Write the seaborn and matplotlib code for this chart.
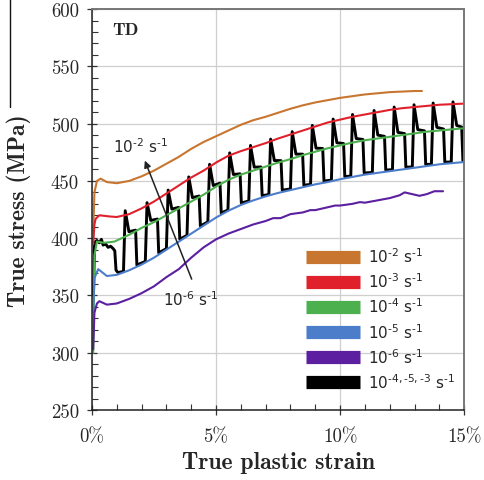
import matplotlib
matplotlib.use("Agg")
import matplotlib.pyplot as plt
from matplotlib.lines import Line2D
from matplotlib.ticker import MultipleLocator, PercentFormatter
import pandas as pd
import seaborn as sns

# True plastic strain (%) and true stress (MPa) for each constant strain rate
strain_1e2 = [0.05, 0.10, 0.20, 0.35, 0.60, 1.0, 1.5, 2.0, 2.5, 3.0, 3.5, 4.0, 4.5, 5.0, 5.5, 6.0,
              6.5, 7.0, 7.5, 8.0, 8.5, 9.0, 9.5, 10.0, 10.5, 11.0, 11.5, 12.0, 12.5, 13.0, 13.3]
stress_1e2 = [405, 440, 450, 452, 449, 448, 450, 454, 459, 465, 471, 478, 484, 489, 494, 499,
              503, 506, 509.5, 513, 516, 518.5, 520.5, 522.5, 524, 525.5, 526.5, 527.5, 528, 528.5, 528.5]

strain_1e3 = [0.05, 0.10, 0.15, 0.30, 0.70, 1.0, 1.5, 2.0, 2.5, 3.0, 3.5, 4.0, 4.5, 5.0, 5.5, 6.0,
              6.5, 7.0, 7.5, 8.0, 8.5, 9.0, 9.5, 10.0, 10.5, 11.0, 11.5, 12.0, 12.5, 13.0, 13.5,
              14.0, 14.5, 15.0]
stress_1e3 = [395, 412, 417, 420, 419, 418.5, 421, 426, 432, 439, 446, 453, 459, 466, 472, 476,
              479.5, 483, 487, 490.5, 494, 497.5, 501, 503.5, 506, 508, 510, 512, 513.5, 514.5, 515.5,
              516.5, 517, 517.5]

strain_1e4 = [0.05, 0.10, 0.20, 0.50, 0.90, 1.2, 1.5, 2.0, 2.5, 3.0, 3.5, 4.0, 4.5, 5.0, 5.5, 6.0,
              6.5, 7.0, 7.5, 8.0, 8.5, 9.0, 9.5, 10.0, 10.5, 11.0, 11.5, 12.0, 12.5, 13.0, 13.5,
              14.0, 14.5, 15.0]
stress_1e4 = [300, 385, 397, 396, 397, 400, 403, 409, 414, 420, 426, 432, 438, 445, 451, 455.5,
              459, 462.5, 466, 469, 472.5, 475.5, 478.5, 481, 483.5, 485.5, 487, 488.5, 490, 491.5, 493,
              494, 495, 496]

strain_1e5 = [0.05, 0.10, 0.25, 0.60, 1.0, 1.5, 2.0, 2.5, 3.0, 3.5, 4.0, 4.5, 5.0, 5.5, 6.0,
              6.5, 7.0, 7.5, 8.0, 8.5, 9.0, 9.5, 10.0, 10.5, 11.0, 11.5, 12.0, 12.5, 13.0, 13.5,
              14.0, 14.5, 15.0]
stress_1e5 = [335, 365, 373, 367, 368, 372, 377, 383, 390, 397, 404, 411, 418, 424, 429,
              433, 436.5, 439.5, 442, 444.5, 447, 449, 451.5, 453.5, 455.5, 457, 458.5, 460, 461.5, 463,
              464.5, 465.5, 466.5]

strain_1e6 = [0.05, 0.10, 0.20, 0.30, 0.60, 1.0, 1.5, 2.0, 2.5, 3.0, 3.5, 4.0, 4.5, 5.0, 5.5, 6.0,
              6.5, 7.0, 7.3, 7.6, 8.0, 8.5, 8.8, 9.0, 9.5, 9.8, 10.0, 10.5, 10.8, 11.0, 11.5, 12.0,
              12.4, 12.6, 12.9, 13.2, 13.5, 13.8, 14.15]
stress_1e6 = [303, 335, 343, 345, 342, 343, 347, 352, 358, 366, 373, 383, 392, 399, 404, 408,
              412, 415, 417.5, 417.5, 421, 422.5, 424.5, 424.5, 427, 428.5, 428.5, 430, 431.5, 431, 433, 435,
              437.5, 440, 438.5, 437, 438.5, 441, 441]

# Strain-rate jump test (10^-4 -> 10^-5 -> 10^-3 s^-1 cycles)
strain_jump = [0.06, 0.10, 0.14, 0.20, 0.30, 0.38, 0.45, 0.55, 0.65, 0.75, 0.85, 0.92, 0.97, 1.05, 1.27,
               1.34, 1.49, 1.76, 1.81, 2.15,
               2.22, 2.37, 2.64, 2.69, 3.00,
               3.07, 3.22, 3.49, 3.54, 3.83,
               3.90, 4.05, 4.32, 4.37, 4.67,
               4.74, 4.89, 5.16, 5.21, 5.48,
               5.55, 5.70, 5.97, 6.02, 6.32,
               6.39, 6.54, 6.81, 6.86, 7.13,
               7.20, 7.35, 7.62, 7.67, 8.00,
               8.07, 8.22, 8.49, 8.54, 8.81,
               8.88, 9.03, 9.30, 9.35, 9.65,
               9.72, 9.87, 10.14, 10.19, 10.43,
               10.50, 10.65, 10.92, 10.97, 11.30,
               11.37, 11.52, 11.79, 11.84, 12.11,
               12.18, 12.33, 12.60, 12.65, 12.91,
               12.98, 13.13, 13.40, 13.45, 13.68,
               13.75, 13.90, 14.17, 14.22, 14.48,
               14.55, 14.70, 14.90, 14.95, 15.0]
stress_jump = [350, 393, 397, 398, 396, 399, 394, 395, 392, 393, 391, 389, 372, 370, 371,
               424, 405.7, 407, 376.6, 379.7,
               431, 415.5, 416.7, 387.2, 390.9,
               442, 425.4, 426.9, 399.1, 402.5,
               453.5, 435.4, 436.8, 410.7, 414.2,
               464.5, 446, 448, 422, 424.6,
               474.5, 455.6, 456.2, 430.7, 432.5,
               481, 462, 462.2, 437, 438.2,
               486.5, 467.8, 467.7, 441.9, 443,
               493, 473.4, 473.4, 446.2, 447,
               498.5, 478.6, 478.3, 449.9, 450.7,
               504, 483.3, 482.7, 453.8, 454.2,
               508, 487, 486.2, 456.9, 457.4,
               511.5, 490, 488.9, 459.5, 459.8,
               514.5, 492.4, 491.3, 462, 462.2,
               516.5, 494.8, 493.7, 464.4, 464.5,
               518, 496.8, 495.3, 466.4, 466.5,
               519, 498.4, 497, 467.5, 467]

series_labels = ["10$^{\u20102}$ s$^{\u20101}$", "10$^{\u20103}$ s$^{\u20101}$",
                 "10$^{\u20104}$ s$^{\u20101}$", "10$^{\u20105}$ s$^{\u20101}$",
                 "10$^{\u20106}$ s$^{\u20101}$", "10$^{\u20104,\u20105,\u20103}$ s$^{\u20101}$"]
series_colors = ["#C8762F", "#E0202B", "#4DB04F", "#4B7DCB", "#5B1FA0", "#000000"]
series_widths = [1.5, 1.5, 1.5, 1.5, 1.5, 2.1]

curves = [(strain_1e2, stress_1e2), (strain_1e3, stress_1e3), (strain_1e4, stress_1e4),
          (strain_1e5, stress_1e5), (strain_1e6, stress_1e6), (strain_jump, stress_jump)]

frames = []
for label, (s, t) in zip(series_labels, curves):
    frames.append(pd.DataFrame({"strain": s, "stress": t, "rate": label}))
data = pd.concat(frames, ignore_index=True)

sns.set_theme(style="white")
plt.rcParams["mathtext.fontset"] = "custom"
plt.rcParams["mathtext.rm"] = "Lato"
plt.rcParams["mathtext.it"] = "Lato"
plt.rcParams["mathtext.default"] = "regular"

fig = plt.figure(figsize=(4.84, 4.81), dpi=100)
ax = fig.add_axes([0.190, 0.1455, 0.769, 0.8335])

# jump-test curve first, constant-rate curves drawn over it
draw_order = [5, 0, 1, 2, 3, 4]
for i in draw_order:
    label, color, lw = series_labels[i], series_colors[i], series_widths[i]
    sub = data[data["rate"] == label]
    sns.lineplot(data=sub, x="strain", y="stress", color=color, lw=lw, sort=False,
                 estimator=None, legend=False, ax=ax, solid_joinstyle="round")

ax.set_xlim(0, 15)
ax.set_ylim(250, 600)
ax.xaxis.set_major_locator(MultipleLocator(5))
ax.xaxis.set_minor_locator(MultipleLocator(1))
ax.yaxis.set_major_locator(MultipleLocator(50))
ax.yaxis.set_minor_locator(MultipleLocator(10))
ax.xaxis.set_major_formatter(PercentFormatter(xmax=100, decimals=0))

ax.set_axisbelow(True)
ax.grid(which="major", color="#cfcfcf", lw=0.9)
ax.tick_params(which="major", direction="inout", length=7, width=0.9, color="#333333",
               labelsize=13.5)
ax.tick_params(axis="x", which="major", pad=9)
ax.tick_params(axis="y", which="major", pad=6)
ax.tick_params(which="minor", direction="in", length=4, width=0.8, color="#333333")
ax.tick_params(axis="x", which="both", bottom=True)
ax.tick_params(axis="y", which="both", left=True)
for lab in ax.get_xticklabels() + ax.get_yticklabels():
    lab.set_fontfamily("cmr10")

for side in ["left", "bottom"]:
    ax.spines[side].set_color("#222222")
    ax.spines[side].set_linewidth(1.1)
for side in ["top", "right"]:
    ax.spines[side].set_color("#777777")
    ax.spines[side].set_linewidth(1.4)

ax.set_xlabel("True plastic strain", fontfamily="cmb10", fontsize=17)
ax.set_ylabel("True stress (MPa)", fontfamily="cmb10", fontsize=17)
ax.xaxis.set_label_coords(0.5, -0.103)
ax.yaxis.set_label_coords(-0.163, 0.5)

ax.text(0.8, 582, "TD", fontfamily="cmb10", fontsize=13, va="center", ha="left")

ax.annotate("", xy=(2.09, 470), xytext=(4.06, 362),
            arrowprops=dict(arrowstyle="-|>", color="#222222", lw=1.1, mutation_scale=10))
ax.text(1.97, 481, "10$^{\u20102}$ s$^{\u20101}$", fontsize=11, ha="center", va="center")
ax.text(3.98, 347, "10$^{\u20106}$ s$^{\u20101}$", fontsize=11, ha="center", va="center")

handles = [Line2D([0], [0], color=c, lw=9.5, solid_capstyle="butt") for c in series_colors]
ax.legend(handles, series_labels, loc="lower right", bbox_to_anchor=(1.0, 0.025),
          frameon=False, fontsize=11, handlelength=3.5, handletextpad=0.55,
          labelspacing=0.42, borderaxespad=0.2)

# thin frame edge at the upper left of the figure
fig.add_artist(Line2D([10 / 484, 10 / 484], [1.0, 1 - 108 / 481], color="#111111", lw=1.0,
                      transform=fig.transFigure))

fig.savefig("out.png", dpi=100)
